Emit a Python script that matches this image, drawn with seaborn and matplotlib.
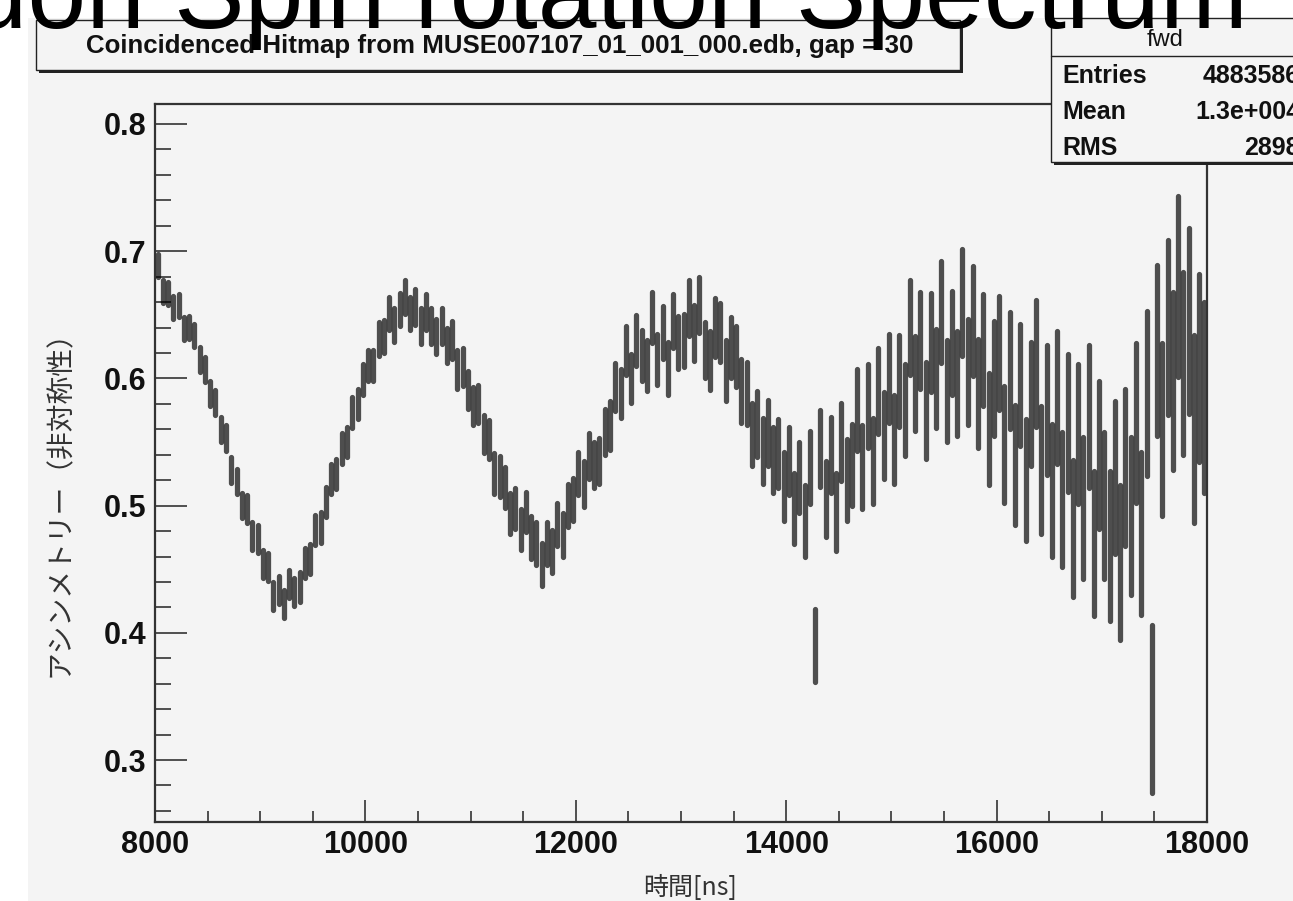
import numpy as np
import pandas as pd
import seaborn as sns
import matplotlib.pyplot as plt
from matplotlib.patches import Rectangle

# asymmetry per 50 ns bin, 8000-18000 ns
asym = [
    # 8000-9000
    0.689, 0.668, 0.667, 0.656, 0.657, 0.639, 0.640, 0.634, 0.615, 0.607,
    0.588, 0.581, 0.560, 0.553, 0.528, 0.519, 0.500, 0.497, 0.476, 0.474,
    # 9000-10000
    0.454, 0.452, 0.429, 0.434, 0.423, 0.438, 0.432, 0.436, 0.455, 0.458,
    0.481, 0.483, 0.503, 0.521, 0.525, 0.545, 0.550, 0.573, 0.580, 0.599,
    # 10000-11000
    0.610, 0.610, 0.631, 0.633, 0.651, 0.642, 0.654, 0.664, 0.651, 0.656,
    0.641, 0.652, 0.641, 0.633, 0.641, 0.626, 0.630, 0.607, 0.609, 0.591,
    # 11000-12000
    0.578, 0.580, 0.556, 0.552, 0.525, 0.523, 0.514, 0.494, 0.498, 0.481,
    0.495, 0.475, 0.470, 0.454, 0.470, 0.464, 0.485, 0.477, 0.500, 0.505,
    # 12000-13000
    0.525, 0.517, 0.539, 0.532, 0.535, 0.558, 0.563, 0.593, 0.588, 0.622,
    0.600, 0.630, 0.618, 0.610, 0.648, 0.615, 0.636, 0.608, 0.645, 0.628,
    # 13000-14000
    0.630, 0.655, 0.636, 0.658, 0.622, 0.614, 0.640, 0.636, 0.606, 0.624,
    0.617, 0.590, 0.588, 0.556, 0.564, 0.543, 0.557, 0.536, 0.541, 0.515,
    # 14000-15000
    0.535, 0.498, 0.522, 0.488, 0.530, 0.390, 0.545, 0.505, 0.540, 0.495,
    0.550, 0.520, 0.532, 0.575, 0.530, 0.578, 0.535, 0.590, 0.555, 0.600,
    # 15000-16000
    0.552, 0.598, 0.575, 0.640, 0.596, 0.630, 0.575, 0.628, 0.600, 0.652,
    0.590, 0.628, 0.596, 0.660, 0.605, 0.645, 0.588, 0.622, 0.560, 0.600,
    # 16000-17000
    0.620, 0.548, 0.606, 0.532, 0.595, 0.520, 0.580, 0.612, 0.528, 0.575,
    0.512, 0.585, 0.505, 0.565, 0.482, 0.556, 0.498, 0.570, 0.470, 0.540,
    # 17000-18000
    0.500, 0.468, 0.522, 0.455, 0.530, 0.492, 0.565, 0.478, 0.588, 0.340,
    0.622, 0.560, 0.640, 0.598, 0.672, 0.612, 0.645, 0.560, 0.608, 0.585,
]

err = [
    0.009, 0.009, 0.009, 0.009, 0.009, 0.009, 0.009, 0.009, 0.010, 0.010,
    0.010, 0.010, 0.010, 0.010, 0.010, 0.010, 0.010, 0.011, 0.011, 0.011,
    0.011, 0.011, 0.011, 0.011, 0.011, 0.011, 0.011, 0.012, 0.012, 0.012,
    0.012, 0.012, 0.012, 0.012, 0.012, 0.012, 0.012, 0.012, 0.012, 0.012,
    0.012, 0.012, 0.013, 0.013, 0.013, 0.013, 0.013, 0.013, 0.013, 0.014,
    0.014, 0.014, 0.014, 0.014, 0.014, 0.014, 0.015, 0.015, 0.015, 0.015,
    0.015, 0.015, 0.015, 0.015, 0.016, 0.016, 0.016, 0.016, 0.016, 0.016,
    0.016, 0.017, 0.017, 0.017, 0.017, 0.017, 0.017, 0.017, 0.017, 0.017,
    0.017, 0.018, 0.018, 0.018, 0.018, 0.018, 0.019, 0.019, 0.019, 0.019,
    0.019, 0.020, 0.020, 0.020, 0.020, 0.020, 0.021, 0.021, 0.021, 0.021,
    0.021, 0.022, 0.022, 0.022, 0.022, 0.023, 0.023, 0.023, 0.024, 0.024,
    0.024, 0.025, 0.025, 0.025, 0.026, 0.026, 0.026, 0.026, 0.027, 0.027,
    0.027, 0.028, 0.028, 0.028, 0.029, 0.029, 0.030, 0.030, 0.030, 0.031,
    0.031, 0.032, 0.032, 0.032, 0.033, 0.033, 0.034, 0.034, 0.034, 0.035,
    0.035, 0.036, 0.036, 0.037, 0.037, 0.038, 0.038, 0.039, 0.039, 0.040,
    0.040, 0.041, 0.041, 0.042, 0.042, 0.043, 0.043, 0.044, 0.044, 0.045,
    0.045, 0.046, 0.046, 0.047, 0.048, 0.048, 0.049, 0.050, 0.050, 0.051,
    0.052, 0.052, 0.053, 0.054, 0.054, 0.055, 0.056, 0.056, 0.057, 0.058,
    0.058, 0.059, 0.060, 0.061, 0.062, 0.062, 0.063, 0.064, 0.065, 0.066,
    0.067, 0.068, 0.069, 0.070, 0.071, 0.072, 0.073, 0.074, 0.074, 0.075,
]

bin_width = 50
time = 8000 + bin_width / 2 + bin_width * np.arange(len(asym))

x_ticks = [8000, 10000, 12000, 14000, 16000, 18000]
y_ticks = [0.3, 0.4, 0.5, 0.6, 0.7, 0.8]

title = "Coincidenced Hitmap from MUSE007107_01_001_000.edb, gap = 30"
slide_title = "Muon Spin rotation Spectrum"
stats_name = "fwd"
stats_rows = [("Entries", "4883586"), ("Mean", "1.3e+004"), ("RMS", "2898")]

# each bin -> two rows (low / high end of error bar)
a = np.array(asym)
e = np.array(err)
df = pd.DataFrame({
    "time": np.repeat(time, 2),
    "asym": np.column_stack([a - e, a + e]).ravel(),
    "bin": np.repeat(np.arange(len(a)), 2),
})

sns.set_style("ticks")
plt.rcParams["font.family"] = ["Liberation Sans", "Noto Sans CJK JP", "DejaVu Sans"]
jp = ["Noto Sans CJK JP", "DejaVu Sans"]

W, H = 1293, 901
def fx(px):
    return px / W
def fy(py):
    return 1 - py / H

bg = "#f4f4f4"
fig = plt.figure(figsize=(W / 100, H / 100), dpi=100)
fig.patch.set_facecolor("white")
fig.add_artist(Rectangle((fx(28), 0), 1 - fx(28), fy(18), transform=fig.transFigure,
                         facecolor=bg, edgecolor="none", zorder=0))

ax = fig.add_axes([fx(155), fy(822), (1207 - 155) / W, (822 - 104) / H])
ax.set_facecolor(bg)

sns.lineplot(data=df, x="time", y="asym", units="bin", estimator=None, sort=False,
             color="black", linewidth=3.8, alpha=0.68, ax=ax, legend=False)

ax.set_xlim(8000, 18000)
ax.set_ylim(0.2513, 0.8157)
ax.set_xticks(x_ticks)
ax.set_xticks(np.arange(8000, 18001, 500), minor=True)
ax.set_yticks(y_ticks)
ax.set_yticks(np.arange(0.26, 0.81, 0.02), minor=True)
ax.set_xticklabels([str(v) for v in x_ticks])
ax.set_yticklabels([f"{v:.1f}" for v in y_ticks])
ax.set_xlabel("")
ax.set_ylabel("")
for s in ax.spines.values():
    s.set_color("#333333")
    s.set_linewidth(1.6)
ax.tick_params(axis="both", which="both", direction="in", color="#333333",
               width=1.2, labelsize=22, labelcolor="#111111")
ax.tick_params(axis="x", which="major", length=16, pad=6)
ax.tick_params(axis="x", which="minor", length=8)
ax.tick_params(axis="y", which="major", length=23, pad=6)
ax.tick_params(axis="y", which="minor", length=11.5)
for lab in ax.get_xticklabels() + ax.get_yticklabels():
    lab.set_fontweight("bold")

fig.text(fx(690), fy(888), "時間[ns]", family=jp, fontsize=18, color="#333333",
         ha="center", va="center")
fig.text(fx(60), fy(497), "アシンメトリー（非対称性）", family=jp, fontsize=20,
         color="#333333", rotation=90, ha="center", va="center")

# title box (ROOT style with shadow)
fig.add_artist(Rectangle((fx(39), fy(73)), (960 - 36) / W, (70 - 20) / H,
                         transform=fig.transFigure, facecolor="#222222",
                         edgecolor="none", zorder=5))
fig.add_artist(Rectangle((fx(36), fy(70)), (960 - 36) / W, (70 - 20) / H,
                         transform=fig.transFigure, facecolor=bg,
                         edgecolor="#222222", linewidth=1, zorder=6))
fig.text(fx(500), fy(46), title, fontsize=18.6, fontweight="bold", color="#111111",
         ha="center", va="center", zorder=7)

# stats box
fig.add_artist(Rectangle((fx(1054), fy(165)), (1320 - 1051) / W, (162 - 18) / H,
                         transform=fig.transFigure, facecolor="#222222",
                         edgecolor="none", zorder=5))
fig.add_artist(Rectangle((fx(1051), fy(162)), (1320 - 1051) / W, (162 - 18) / H,
                         transform=fig.transFigure, facecolor=bg,
                         edgecolor="#222222", linewidth=1, zorder=6))
fig.add_artist(plt.Line2D([fx(1051), 1], [fy(56), fy(56)], transform=fig.transFigure,
                          color="#222222", linewidth=1, zorder=7))
fig.text(fx(1165), fy(40), stats_name, fontsize=17, color="#111111",
         ha="center", va="center", zorder=7)
for i, (k, v) in enumerate(stats_rows):
    yy = fy(76 + 36 * i)
    fig.text(fx(1062), yy, k, fontsize=18, fontweight="bold", color="#111111",
             ha="left", va="center", zorder=7)
    fig.text(fx(1300), yy, v, fontsize=18, fontweight="bold", color="#111111",
             ha="right", va="center", zorder=7)

# slide title, mostly cut off at the top of the picture
fig.text(fx(1248), fy(28), slide_title, fontsize=76, color="black",
         ha="right", va="baseline", zorder=10)

fig.savefig("out.png", dpi=100, facecolor=fig.get_facecolor())
